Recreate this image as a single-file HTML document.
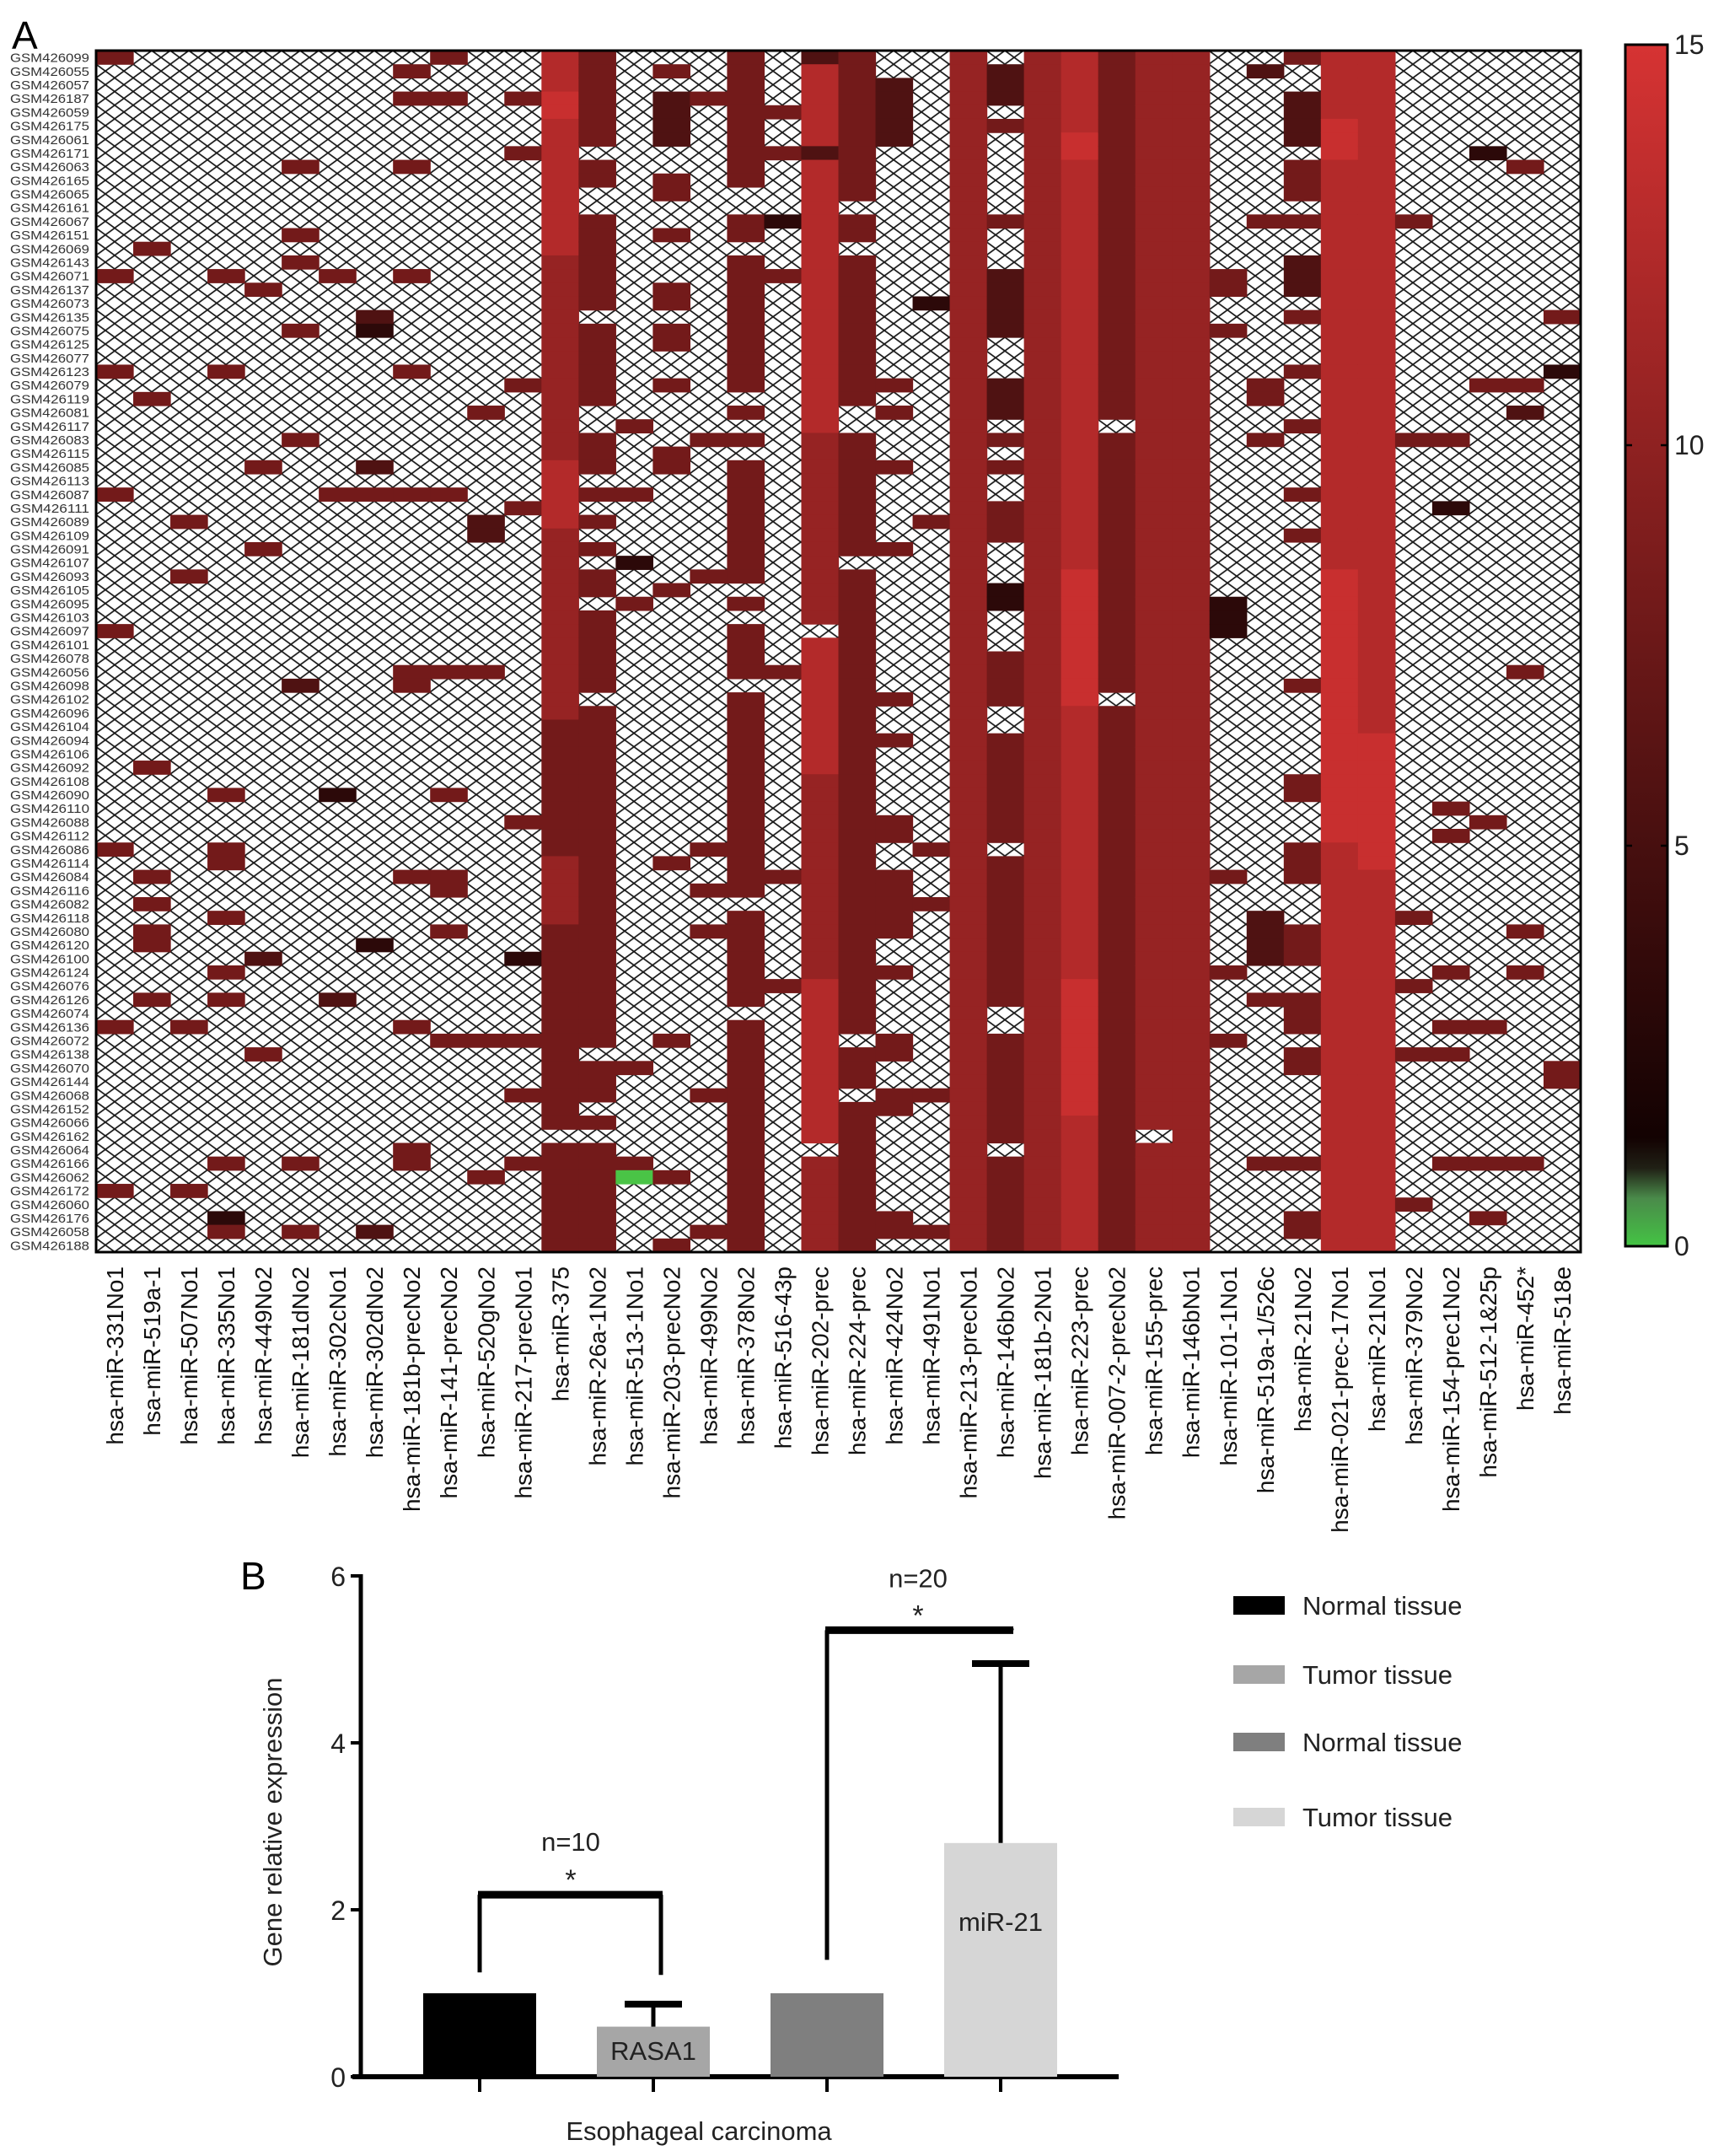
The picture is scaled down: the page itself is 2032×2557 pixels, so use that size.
<!DOCTYPE html>
<html><head><meta charset="utf-8"><title>miRNA heatmap and expression</title>
<style>
html,body{margin:0;padding:0;background:#fff;}
svg{display:block;font-family:"Liberation Sans",sans-serif;}
</style></head>
<body>
<svg id="fig" width="2032" height="2557" viewBox="0 0 2032 2557" xmlns="http://www.w3.org/2000/svg">
<defs>
<pattern id="hatch" patternUnits="userSpaceOnUse" x="114" y="60" width="22" height="16.19">
<line x1="0" y1="0" x2="22" y2="16.19" stroke="#1a1a1a" stroke-width="1.7"/>
<line x1="22" y1="0" x2="0" y2="16.19" stroke="#1a1a1a" stroke-width="1.7"/>
</pattern>
<linearGradient id="cbar" x1="0" y1="1" x2="0" y2="0">
<stop offset="0" stop-color="#44c444"/>
<stop offset="0.04" stop-color="#4a8a4a"/>
<stop offset="0.065" stop-color="#202015"/>
<stop offset="0.09" stop-color="#130202"/>
<stop offset="1" stop-color="#d63333"/>
</linearGradient>
</defs>
<text x="14" y="58" font-size="46">A</text>
<g id="heat"></g>
<g id="colorbar"></g>
<text x="285" y="1885" font-size="46">B</text>
<g id="bars"></g>
</svg>
<script>
const rowLabels = ["GSM426099","GSM426055","GSM426057","GSM426187","GSM426059","GSM426175","GSM426061","GSM426171","GSM426063","GSM426165","GSM426065","GSM426161","GSM426067","GSM426151","GSM426069","GSM426143","GSM426071","GSM426137","GSM426073","GSM426135","GSM426075","GSM426125","GSM426077","GSM426123","GSM426079","GSM426119","GSM426081","GSM426117","GSM426083","GSM426115","GSM426085","GSM426113","GSM426087","GSM426111","GSM426089","GSM426109","GSM426091","GSM426107","GSM426093","GSM426105","GSM426095","GSM426103","GSM426097","GSM426101","GSM426078","GSM426056","GSM426098","GSM426102","GSM426096","GSM426104","GSM426094","GSM426106","GSM426092","GSM426108","GSM426090","GSM426110","GSM426088","GSM426112","GSM426086","GSM426114","GSM426084","GSM426116","GSM426082","GSM426118","GSM426080","GSM426120","GSM426100","GSM426124","GSM426076","GSM426126","GSM426074","GSM426136","GSM426072","GSM426138","GSM426070","GSM426144","GSM426068","GSM426152","GSM426066","GSM426162","GSM426064","GSM426166","GSM426062","GSM426172","GSM426060","GSM426176","GSM426058","GSM426188"];
const colLabels = ["hsa-miR-331No1","hsa-miR-519a-1","hsa-miR-507No1","hsa-miR-335No1","hsa-miR-449No2","hsa-miR-181dNo2","hsa-miR-302cNo1","hsa-miR-302dNo2","hsa-miR-181b-precNo2","hsa-miR-141-precNo2","hsa-miR-520gNo2","hsa-miR-217-precNo1","hsa-miR-375","hsa-miR-26a-1No2","hsa-miR-513-1No1","hsa-miR-203-precNo2","hsa-miR-499No2","hsa-miR-378No2","hsa-miR-516-43p","hsa-miR-202-prec","hsa-miR-224-prec","hsa-miR-424No2","hsa-miR-491No1","hsa-miR-213-precNo1","hsa-miR-146bNo2","hsa-miR-181b-2No1","hsa-miR-223-prec","hsa-miR-007-2-precNo2","hsa-miR-155-prec","hsa-miR-146bNo1","hsa-miR-101-1No1","hsa-miR-519a-1/526c","hsa-miR-21No2","hsa-miR-021-prec-17No1","hsa-miR-21No1","hsa-miR-379No2","hsa-miR-154-prec1No2","hsa-miR-512-1&25p","hsa-miR-452*","hsa-miR-518e"];
// expression level codes: '.' = missing, a..f dark->bright red, g = green (~0)
const levelValues = {a:3, b:5.5, c:8, d:10.5, e:12.5, f:14, g:0.2};
// run-length encoded column data (count + code), top row first
const colRuns = [
"1c 15. 1c 6. 1c 8. 1c 9. 1c 15. 1c 12. 1c 11. 1c 4.",
"14. 1c 10. 1c 26. 1c 7. 1c 1. 1c 1. 2c 3. 1c 18.",
"34. 1c 3. 1c 32. 1c 11. 1c 4.",
"16. 1c 6. 1c 30. 1c 3. 2c 3. 1c 3. 1c 1. 1c 11. 1c 3. 1a 1c 1.",
"17. 1c 12. 1c 5. 1c 29. 1b 6. 1c 14.",
"8. 1c 4. 1c 1. 1c 4. 1c 7. 1c 17. 1b 34. 1c 4. 1c 1.",
"16. 1c 15. 1c 21. 1a 14. 1b 18.",
"19. 1b 1a 9. 1b 1. 1c 32. 1a 20. 1b 1.",
"1. 1c 1. 1c 4. 1c 7. 1c 6. 1c 8. 1c 12. 2c 13. 1c 10. 1c 8. 2c 6.",
"1c 2. 1c 28. 1c 12. 1c 8. 1c 5. 2c 2. 1c 7. 1c 15.",
"26. 1c 7. 2b 9. 1c 26. 1c 9. 1c 5.",
"3. 1c 3. 1c 16. 1c 8. 1c 22. 1c 9. 1a 5. 1c 3. 1c 4. 1c 6.",
"3e 2f 10e 15d 5e 14d 10c 5d 15c 1. 8c",
"7c 1. 2c 2. 7c 1. 6c 2. 3c 1. 1c 1. 1c 1. 1c 1. 2c 1. 6c 1. 25c 1. 3c 1. 1c 1. 8c",
"27. 1c 4. 1c 4. 1a 2. 1c 33. 1c 6. 1c 1g 5.",
"1. 1c 1. 4b 2. 2c 2. 1c 3. 2c 1. 2c 2. 1c 4. 2c 8. 1c 19. 1c 12. 1c 9. 1c 4. 1c 1.",
"3. 1c 24. 1c 9. 1c 19. 1c 2. 1c 2. 1c 11. 1c 9. 1c 1.",
"10c 2. 2c 1. 10c 1. 1c 1. 1c 1. 9c 1. 1c 1. 4c 1. 15c 1. 7c 1. 17c",
"4. 1c 2. 1c 4. 1a 3. 1c 28. 1c 14. 1c 7. 1c 19.",
"1b 6e 1b 20e 14d 1. 10e 15d 12e 1. 7d",
"11c 1. 2c 1. 11c 2. 9c 1. 34c 1. 3c 1. 11c",
"2. 5b 17. 1c 1. 1c 3. 1c 5. 1c 10. 1c 2. 1c 5. 2c 2. 5c 2. 1c 4. 2c 2. 2c 7. 2c 1.",
"18. 1a 15. 1c 23. 1c 3. 1c 13. 1c 9. 1c 1.",
"88d",
"1. 3b 1. 1c 6. 1c 3. 5b 3. 3b 1. 1c 1. 1c 2. 3c 3. 2a 3. 4c 2. 8c 1. 11c 2. 8c 1. 7c",
"88d",
"6e 2f 30e 10f 20e 10f 10e",
"27c 1. 19c 1. 40c",
"79d 1. 8d",
"88d",
"16. 2c 2. 1c 19. 3a 17. 1c 6. 1c 4. 1c 15.",
"1. 1b 10. 1c 11. 2c 2. 1c 34. 4b 2. 1c 11. 1c 5.",
"1c 2. 4b 1. 3c 1. 1c 2. 3b 1. 1c 3. 1c 3. 1c 4. 1c 2. 1c 10. 1c 6. 2c 3. 3c 3. 3c 2. 3c 1. 2c 6. 1c 3. 2c 1.",
"5e 3f 30e 20f 30e",
"50e 10f 28e",
"12. 1c 15. 1c 34. 1c 4. 1c 4. 1c 10. 1c 3.",
"28. 1c 4. 1a 21. 1c 1. 1c 9. 1c 3. 1c 1. 1c 7. 1c 6.",
"7. 1a 16. 1c 31. 1c 14. 1c 9. 1c 3. 1c 2.",
"8. 1c 15. 1c 1. 1b 18. 1c 18. 1c 2. 1c 13. 1c 6.",
"19. 1c 3. 1a 50. 2c 12."
];
const cbTicks = [0, 5, 10, 15];
// bar chart data
const barCategories = ["Normal tissue", "Tumor tissue", "Normal tissue", "Tumor tissue"];
const barValues = [1.0, 0.6, 1.0, 2.8];
const barErrors = [0, 0.27, 0, 2.15];
const barTexts = ["", "RASA1", "", "miR-21"];
const yTicks = [0, 2, 4, 6];
const bracketTops = [2.18, 5.35];
const bracketLabels = ["n=10", "n=20"];

const NS = "http://www.w3.org/2000/svg";
function mk(tag, attrs, parent){ const e=document.createElementNS(NS,tag); for(const k in attrs) e.setAttribute(k,attrs[k]); parent.appendChild(e); return e; }

// ---------- heatmap ----------
const heat = document.getElementById('heat');
const HX=114, HY=60, HW=1761, HH=1425;
const cw = HW/colLabels.length, rh = HH/rowLabels.length;
const xCol = i => HX + i*cw;
const yRow = j => HY + j*rh;
function colorFor(v){
  if(v < 1){ return 'rgb(74,196,70)'; }
  const t = Math.min(1, Math.max(0,(v-1.3)/13.7));
  const r = Math.round(20 + t*194), g = Math.round(3 + t*48), b = Math.round(3 + t*48);
  return `rgb(${r},${g},${b})`;
}
function decode(s){
  const out=[];
  s.trim().split(/\s+/).forEach(tok=>{
    const n=parseInt(tok,10), c=tok.replace(/^\d+/,'');
    for(let k=0;k<n;k++) out.push(c==='.'?null:levelValues[c]);
  });
  return out;
}
const bg = mk('rect',{x:HX,y:HY,width:HW,height:HH,fill:'#fff'},heat);


const hatch = mk('rect',{x:HX,y:HY,width:HW,height:HH,fill:'url(#hatch)'},heat);


colRuns.forEach((s,ci)=>{
  const vals = decode(s);
  vals.forEach((v,ri)=>{
    if(v===null || ri>=rowLabels.length) return;
    const r = mk('rect',{x:xCol(ci),y:yRow(ri),width:cw+0.6,height:rh+0.6,fill:colorFor(v)},heat);
    
    
  });
});
const frame = mk('rect',{x:HX,y:HY,width:HW,height:HH,fill:'none',stroke:'#000','stroke-width':3},heat);


rowLabels.forEach((lab,ri)=>{
  const t = mk('text',{x:106,y:yRow(ri)+rh/2+5.5,'text-anchor':'end','font-size':15,fill:'#333',textLength:94,lengthAdjust:'spacingAndGlyphs'},heat);
  t.textContent = lab;
  
  
});
colLabels.forEach((lab,ci)=>{
  const cx = xCol(ci)+cw/2+10;
  const t = mk('text',{x:0,y:0,'text-anchor':'end','font-size':28,fill:'#111',transform:`translate(${cx},1502) rotate(-90)`},heat);
  t.textContent = lab;
  
  
});

// ---------- colorbar ----------
const cb = document.getElementById('colorbar');
const cbY = v => 1478 - 95*v;
const cbr = mk('rect',{x:1928,y:cbY(15),width:50,height:cbY(0)-cbY(15),fill:'url(#cbar)',stroke:'#000','stroke-width':3},cb);


cbTicks.forEach(v=>{
  const y=cbY(v);
  const l1=mk('line',{x1:1928,x2:1936,y1:y,y2:y,stroke:'#000','stroke-width':2.5},cb);
  
  
  const l2=mk('line',{x1:1970,x2:1978,y1:y,y2:y,stroke:'#000','stroke-width':2.5},cb);
  
  
  const t=mk('text',{x:1986,y:y+11,'font-size':32,fill:'#222'},cb);
  t.textContent=String(v);
  
  
});

// ---------- bar chart ----------
const bars = document.getElementById('bars');
const AX=428, Y0=2463, PX=99;
const yv = v => Y0 - v*PX;
const bx = i => 569 + i*206;
const barColors = ['#000000','#a6a6a6','#7f7f7f','#d6d6d6'];
const ya = mk('line',{x1:AX,x2:AX,y1:yv(6)-2,y2:Y0+3,stroke:'#000','stroke-width':5},bars);


const xa = mk('line',{x1:418,x2:1327,y1:Y0,y2:Y0,stroke:'#000','stroke-width':6},bars);


yTicks.forEach(v=>{
  const l=mk('line',{x1:AX-12,x2:AX,y1:yv(v),y2:yv(v),stroke:'#000','stroke-width':4},bars);
  
  
  const t=mk('text',{x:AX-18,y:yv(v)+12,'text-anchor':'end','font-size':32,fill:'#222'},bars);
  t.textContent=String(v);
  
  
});
const yt = mk('text',{x:0,y:0,'text-anchor':'middle','font-size':31,fill:'#222',transform:'translate(334,2161) rotate(-90)'},bars);
yt.textContent='Gene relative expression';


const xt = mk('text',{x:829,y:2538,'text-anchor':'middle','font-size':31,fill:'#222'},bars);
xt.textContent='Esophageal carcinoma';


barValues.forEach((v,i)=>{
  const cx=bx(i);
  const r=mk('rect',{x:cx-67,y:yv(v),width:134,height:Y0-yv(v),fill:barColors[i]},bars);
  
  
  const tk=mk('line',{x1:cx,x2:cx,y1:Y0,y2:Y0+18,stroke:'#000','stroke-width':4},bars);
  
  
  if(barErrors[i]>0){
    const top=yv(v+barErrors[i]);
    const s=mk('line',{x1:cx,x2:cx,y1:yv(v),y2:top,stroke:'#000','stroke-width':5},bars);
    
    
    const c=mk('line',{x1:cx-34,x2:cx+34,y1:top,y2:top,stroke:'#000','stroke-width':8},bars);
    
    
  }
  if(barTexts[i]){
    const t=mk('text',{x:cx,y:i===1?2443:2290,'text-anchor':'middle','font-size':31,fill:'#222'},bars);
    t.textContent=barTexts[i];
    
    
  }
});
// significance brackets
[[0,1],[2,3]].forEach((pair,k)=>{
  const [a,b]=pair;
  const yTop=yv(bracketTops[k]);
  const la=yv(barValues[a]+0.25), lb=yv(barValues[b]+barErrors[b]+(k===0?0.35:0.42));
  const g=mk('g',{},bars);
  
  
  const leftBottom = k===0 ? la : yv(1.4);
  mk('line',{x1:bx(a),x2:bx(a),y1:yTop,y2:leftBottom,stroke:'#000','stroke-width':5},g);
  mk('line',{x1:bx(b)+(k===0?9:13),x2:bx(b)+(k===0?9:13),y1:yTop,y2:k===0?yv(1.22):lb,stroke:'#000','stroke-width':5},g);
  mk('line',{x1:bx(a)-2,x2:bx(b)+(k===0?11:15),y1:yTop,y2:yTop,stroke:'#000','stroke-width':9},g);
  const st=mk('text',{x:(bx(a)+bx(b))/2+5,y:yTop-6,'text-anchor':'middle','font-size':34,fill:'#222'},bars);
  st.textContent='*';
  
  
  const nt=mk('text',{x:(bx(a)+bx(b))/2+5,y:yTop-(k===0?52:51),'text-anchor':'middle','font-size':31,fill:'#222'},bars);
  nt.textContent=bracketLabels[k];
  
  
});
// legend
const legY=[1904,1986,2066,2155];
barCategories.forEach((c,i)=>{
  const g=mk('g',{},bars);
  
  
  mk('rect',{x:1463,y:legY[i]-11,width:61,height:22,fill:barColors[i]},g);
  const t=mk('text',{x:1545,y:legY[i]+11,'font-size':31,fill:'#222'},g);
  t.textContent=c;
});
</script>
</body></html>
